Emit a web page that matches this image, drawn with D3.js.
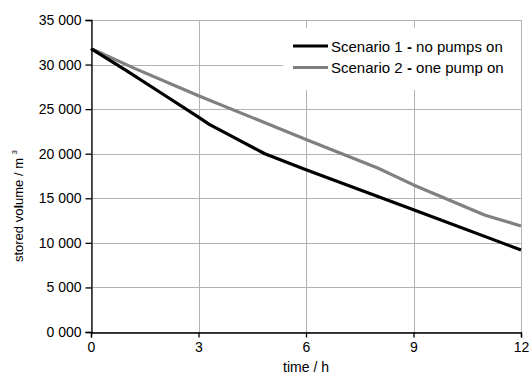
<!DOCTYPE html>
<html>
<head>
<meta charset="utf-8">
<script src="https://cdn.jsdelivr.net/npm/d3@7"></script>
<style>
body { margin: 0; background: #fff; }
text { font-family: "Liberation Sans", Arial, sans-serif; fill: #000; }
</style>
</head>
<body>
<div id="container"></div>
<script>
// data
var timeTicks = [0, 3, 6, 9, 12];
var volumeTicks = [0, 5000, 10000, 15000, 20000, 25000, 30000, 35000];

var scenario1Time = [0, 1, 2, 3, 3.3, 4, 4.85, 6, 9, 12];
var scenario1Volume = [31800, 29300, 26700, 24100, 23300, 21800, 20000, 18200, 13700, 9200];

var scenario2Time = [0, 1.2, 3, 6, 8, 9, 11, 12];
var scenario2Volume = [31800, 29600, 26500, 21600, 18400, 16500, 13100, 11900];

var seriesNames = ["Scenario 1", "Scenario 2"];
var seriesDesc = ["no pumps on", "one pump on"];
var seriesColors = ["#000000", "#808080"];

var w = 532, h = 376;
var margin = {left: 91, right: 11, top: 20, bottom: 44};

var svg = d3.select('#container')
	.append("svg")
	.attr("width", w)
	.attr("height", h);

var xScale = d3.scaleLinear().domain([0, 12]).range([margin.left, w - margin.right]);
var yScale = d3.scaleLinear().domain([0, 35000]).range([h - margin.bottom, margin.top]);

//Gridlines
svg.append("g").selectAll("line")
	.data(volumeTicks)
	.enter().append("line")
	.attr("x1", margin.left).attr("x2", w - margin.right)
	.attr("y1", function(d){ return Math.round(yScale(d)) + 0.5; })
	.attr("y2", function(d){ return Math.round(yScale(d)) + 0.5; })
	.attr("stroke", "#b3b3b3");

svg.append("g").selectAll("line")
	.data(timeTicks)
	.enter().append("line")
	.attr("y1", margin.top).attr("y2", h - margin.bottom)
	.attr("x1", function(d){ return Math.round(xScale(d)) + 0.5; })
	.attr("x2", function(d){ return Math.round(xScale(d)) + 0.5; })
	.attr("stroke", "#b3b3b3");

//Axes
var fmt = function(d){
	var th = Math.floor(d / 1000);
	return th + " 000";
};

var yAxis = svg.append("g")
	.attr("transform", "translate(" + (margin.left + 0.5) + ",0)")
	.call(d3.axisLeft(yScale).tickValues(volumeTicks).tickFormat(fmt).tickSizeOuter(0).tickSize(6).tickPadding(4));

var xAxis = svg.append("g")
	.attr("transform", "translate(0," + (h - margin.bottom + 0.5) + ")")
	.call(d3.axisBottom(xScale).tickValues(timeTicks).tickFormat(d3.format("d")).tickSizeOuter(0).tickSize(5).tickPadding(5));

[xAxis, yAxis].forEach(function(a){
	a.select(".domain").attr("stroke", "#000").attr("stroke-width", 1.3);
	a.selectAll(".tick line").attr("stroke", "#000").attr("stroke-width", 1.3);
	a.selectAll("text").attr("font-size", "14px").attr("font-family", "Liberation Sans, Arial, sans-serif").attr("fill", "#000");
});

//Lines
var line = d3.line()
	.x(function(d){ return xScale(d[0]); })
	.y(function(d){ return yScale(d[1]); });

var series = [
	d3.zip(scenario2Time, scenario2Volume),
	d3.zip(scenario1Time, scenario1Volume)
];
var colorsDrawn = [seriesColors[1], seriesColors[0]];

svg.append("g").selectAll("path")
	.data(series)
	.enter().append("path")
	.attr("d", line)
	.attr("fill", "none")
	.attr("stroke", function(d, i){ return colorsDrawn[i]; })
	.attr("stroke-width", 3.2)
	.attr("stroke-linejoin", "round");

//Legend
var legend = svg.append("g");
legend.append("rect")
	.attr("x", 283).attr("y", 28)
	.attr("width", 238).attr("height", 62)
	.attr("fill", "#fff");

var items = legend.selectAll("g.item")
	.data(seriesNames)
	.enter().append("g")
	.attr("class", "item")
	.attr("transform", function(d, i){ return "translate(0," + (46 + i * 21.5) + ")"; });

items.append("line")
	.attr("x1", 293).attr("x2", 328)
	.attr("y1", 0).attr("y2", 0)
	.attr("stroke", function(d, i){ return seriesColors[i]; })
	.attr("stroke-width", 3.2);

var lt = items.append("text")
	.attr("x", 331).attr("y", 5.5)
	.attr("font-size", "15px");
lt.append("tspan").text(function(d){ return d + " "; });
lt.append("tspan").attr("font-weight", "bold").text("-");
lt.append("tspan").text(function(d, i){ return " " + seriesDesc[i]; });

//Axis titles
svg.append("text")
	.attr("x", xScale(6)).attr("y", 372)
	.attr("text-anchor", "middle")
	.attr("font-size", "14px")
	.text("time / h");

var yt = svg.append("text")
	.attr("transform", "translate(23,206) rotate(-90)")
	.attr("text-anchor", "middle")
	.attr("font-size", "13px");
yt.append("tspan").text("stored vo");
yt.append("tspan").attr("font-weight", "bold").text("l");
yt.append("tspan").text("ume / m ");
yt.append("tspan").attr("font-size", "8px").attr("dy", "-6").text("3");
</script>
</body>
</html>
